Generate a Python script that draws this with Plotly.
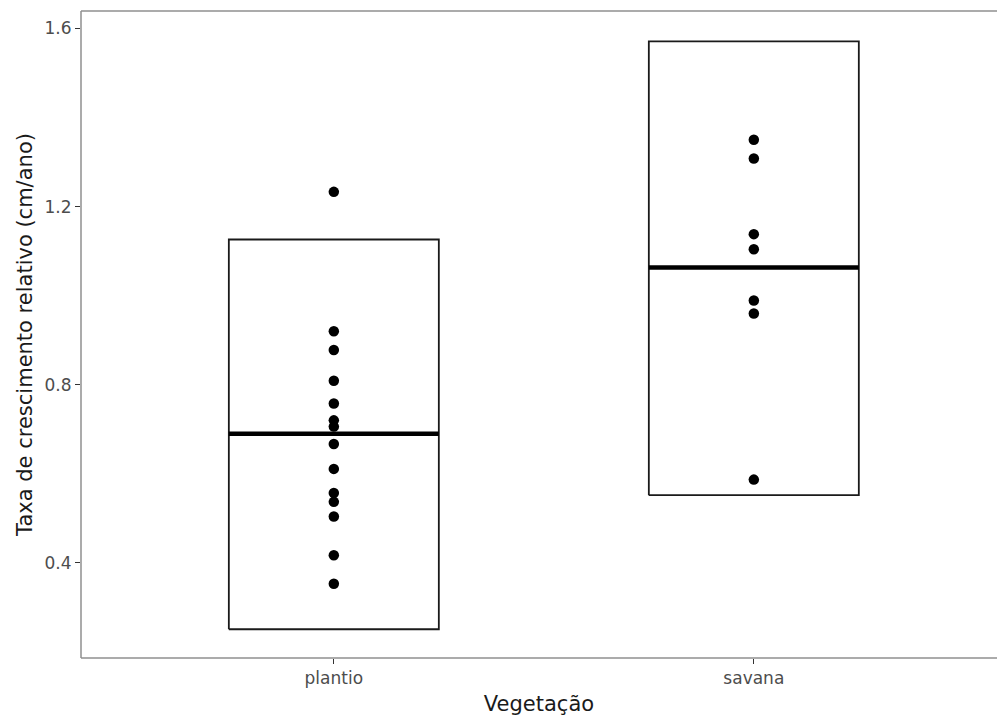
import plotly.graph_objects as go

# Vegetation groups and individual growth rates (cm/ano)
categories = ["plantio", "savana"]
plantio_vals = [1.233, 0.920, 0.878, 0.809, 0.758, 0.720, 0.706, 0.667,
                0.611, 0.557, 0.537, 0.504, 0.417, 0.353]
savana_vals = [1.350, 1.308, 1.138, 1.104, 0.989, 0.960, 0.587]

# Crossbar summaries per group: centre line, lower and upper edges
box_mean = [0.690, 1.063]
box_lower = [0.251, 0.552]
box_upper = [1.126, 1.571]

y_ticks = [0.4, 0.8, 1.2, 1.6]
half_width = 0.25

fig = go.Figure()

positions = [1, 2]
for pos, lo, hi, mid in zip(positions, box_lower, box_upper, box_mean):
    x0, x1 = pos - half_width, pos + half_width
    fig.add_trace(go.Scatter(
        x=[x0, x1, x1, x0, x0], y=[lo, lo, hi, hi, lo],
        mode="lines", line=dict(color="#1a1a1a", width=1.8),
        hoverinfo="skip", showlegend=False))
    fig.add_trace(go.Scatter(
        x=[x0, x1], y=[mid, mid], mode="lines",
        line=dict(color="black", width=4.5),
        hoverinfo="skip", showlegend=False))

for pos, vals in zip(positions, [plantio_vals, savana_vals]):
    fig.add_trace(go.Scatter(
        x=[pos] * len(vals), y=vals, mode="markers",
        marker=dict(color="black", size=10.5),
        showlegend=False))

# Panel border on left, top and bottom
border = dict(color="#8f8f8f", width=1.5)
for x0, y0, x1, y1 in [(0, 0, 0, 1), (0, 1, 1, 1), (0, 0, 1, 0)]:
    fig.add_shape(type="line", xref="paper", yref="paper",
                  x0=x0, y0=y0, x1=x1, y1=y1, line=border)

tick_font = dict(family="DejaVu Sans", size=17, color="#4d4d4d")
title_font = dict(family="DejaVu Sans", size=21, color="#1a1a1a")

fig.update_layout(
    width=997, height=722,
    margin=dict(l=81, r=0, t=11, b=64),
    paper_bgcolor="white", plot_bgcolor="white",
    font=dict(family="DejaVu Sans"),
    xaxis=dict(
        range=[0.398, 2.579], tickvals=positions, ticktext=categories,
        showgrid=False, zeroline=False, showline=False,
        ticks="outside", ticklen=5, tickwidth=1.2, tickcolor="#333333",
        tickfont=tick_font,
        title=dict(text="Vegetação", font=title_font, standoff=8)),
    yaxis=dict(
        range=[0.1865, 1.639], tickvals=y_ticks,
        ticktext=[f"{v:.1f}" for v in y_ticks],
        showgrid=False, zeroline=False, showline=False,
        ticks="outside", ticklen=5, tickwidth=1.2, tickcolor="#333333",
        tickfont=tick_font,
        title=dict(text="Taxa de crescimento relativo (cm/ano)",
                   font=title_font, standoff=6)),
)

fig.write_html("out.html")
